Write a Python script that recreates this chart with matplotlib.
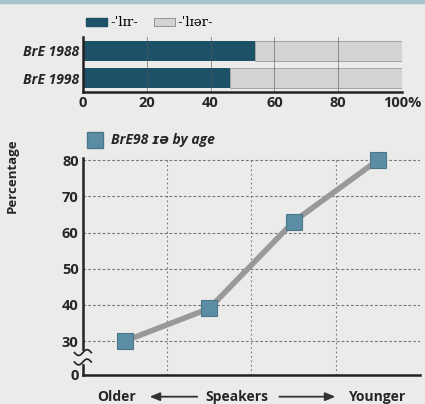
import matplotlib.pyplot as plt
import numpy as np
from matplotlib.patches import Rectangle, Patch
from matplotlib.lines import Line2D

# top chart: share of each pronunciation
years = ['BrE 1988', 'BrE 1998']
lir_share = [54, 46]
liar_share = [46, 54]
bar_ticks = [0, 20, 40, 60, 80, 100]
bar_tick_labels = ['0', '20', '40', '60', '80', '100%']

# bottom chart: BrE98 by age group
age_groups = ['1', '2', '3', '4']
age_pct = [30, 39, 63, 80]
y_ticks = [30, 40, 50, 60, 70, 80]

bg = '#ebebea'
dark = '#1d5168'
light = '#d3d3d3'
txt = '#262626'
plt.rcParams['font.family'] = ['Open Sans', 'DejaVu Sans']
plt.rcParams['font.weight'] = 'bold'
plt.rcParams['axes.labelweight'] = 'bold'

fig = plt.figure(figsize=(4.25, 4.04), dpi=100, facecolor=bg)
fig.patches.append(Rectangle((0, 0.992), 1, 0.008, transform=fig.transFigure,
                             color='#a7c5cd', zorder=0))

# ---- bar chart
ax1 = fig.add_axes([0.195, 0.772, 0.751, 0.136], facecolor=bg)
ypos = np.arange(len(years))
ax1.barh(ypos, lir_share, height=0.72, color=dark, zorder=2)
ax1.barh(ypos, liar_share, left=lir_share, height=0.72, color=light,
         edgecolor='#9a9a9a', linewidth=0.6, zorder=2)
for t in bar_ticks[1:-1]:
    ax1.axvline(t, color='#555555', lw=0.7, alpha=0.6, zorder=3)
ax1.set_xlim(0, 100)
ax1.set_ylim(1.5, -0.5)
ax1.set_yticks(ypos)
ax1.set_yticklabels(years, fontsize=10, style='italic', color=txt,
                    fontweight='bold')
ax1.set_xticks(bar_ticks)
ax1.set_xticklabels(bar_tick_labels, fontsize=10.5, color=txt, fontweight='bold')
ax1.tick_params(length=0, pad=3)
for s in ['top', 'right']:
    ax1.spines[s].set_visible(False)
for s in ['left', 'bottom']:
    ax1.spines[s].set_linewidth(1.8)
    ax1.spines[s].set_color('#222222')

handles = [Patch(facecolor=dark, edgecolor=dark),
           Patch(facecolor=light, edgecolor='#888888', linewidth=0.6)]
leg = ax1.legend(handles, ['-\u02c8l\u026ar-', '-\u02c8l\u026a\u0259r-'],
                 loc='lower left', bbox_to_anchor=(-0.01, 1.02), ncol=2,
                 frameon=False, handlelength=1.6, handleheight=0.6,
                 handletextpad=0.2, columnspacing=1.2, borderpad=0,
                 prop={'family': 'DejaVu Serif', 'size': 9.5, 'weight': 'normal'})

# ---- line chart
ax2 = fig.add_axes([0.195, 0.0718, 0.793, 0.537], facecolor=bg)
xpos = np.arange(len(age_groups)) + 0.5
ax2.plot(xpos, age_pct, color='#999999', lw=4, zorder=3, solid_capstyle='round')
ax2.plot(xpos, age_pct, ls='none', marker='s', ms=11, color='#5b8ea4',
         mec='#4b7689', mew=0.8, zorder=4, clip_on=False)
ax2.set_xlim(0, 4)
ax2.set_ylim(20.6, 80.6)
ax2.set_yticks([20.6] + y_ticks)
ax2.set_yticklabels(['0'] + [str(v) for v in y_ticks], fontsize=10.5,
                    color=txt, fontweight='bold')
ax2.set_xticks([])
for v in y_ticks:
    ax2.axhline(v, color='#777777', lw=0.8, ls=(0, (2.5, 1.8)), zorder=1)
for v in [1, 2, 3]:
    ax2.axvline(v, color='#777777', lw=0.8, ls=(0, (1.5, 2.5)), zorder=1)
ax2.tick_params(length=0, pad=3)
for s in ['top', 'right']:
    ax2.spines[s].set_visible(False)
for s in ['left', 'bottom']:
    ax2.spines[s].set_linewidth(1.8)
    ax2.spines[s].set_color('#222222')
ax2.set_ylabel('Percentage', fontsize=9.5, color=txt, fontweight='bold')
ax2.yaxis.set_label_coords(-0.19, 0.92)

# axis break
tr = ax2.get_yaxis_transform()
ax2.add_patch(Rectangle((-0.02, 24.0), 0.04, 3.2, transform=tr, color=bg,
                        clip_on=False, zorder=5))
wx = np.linspace(-0.025, 0.025, 30)
for yb in [24.2, 26.8]:
    ax2.plot(wx, yb + 0.8 * np.sin(wx / 0.025 * np.pi), transform=tr,
             color='#222222', lw=1.2, clip_on=False, zorder=6)

# series legend
fig.lines.append(Line2D([0.224], [0.653], marker='s', ms=11, color='#5b8ea4',
                        mec='#4b7689', transform=fig.transFigure))
fig.text(0.262, 0.653, 'BrE98 \u026a\u0259 by age', fontsize=10, style='italic',
         color=txt, va='center', fontweight='bold')

# x label with arrows
xt = ax2.get_xaxis_transform()
for xv, lab in [(0.4, 'Older'), (1.83, 'Speakers'), (3.49, 'Younger')]:
    ax2.text(xv, -0.1, lab, transform=xt, ha='center', va='center',
             fontsize=10, color=txt, fontweight='bold')
arrow = dict(arrowstyle='-|>,head_length=0.6,head_width=0.25', color='#333333', lw=1.3)
ax2.annotate('', xy=(0.76, -0.1), xytext=(1.39, -0.1), xycoords=xt,
             textcoords=xt, arrowprops=arrow, annotation_clip=False)
ax2.annotate('', xy=(3.03, -0.1), xytext=(2.3, -0.1), xycoords=xt,
             textcoords=xt, arrowprops=arrow, annotation_clip=False)

fig.savefig('out.png', dpi=100, facecolor=bg)
